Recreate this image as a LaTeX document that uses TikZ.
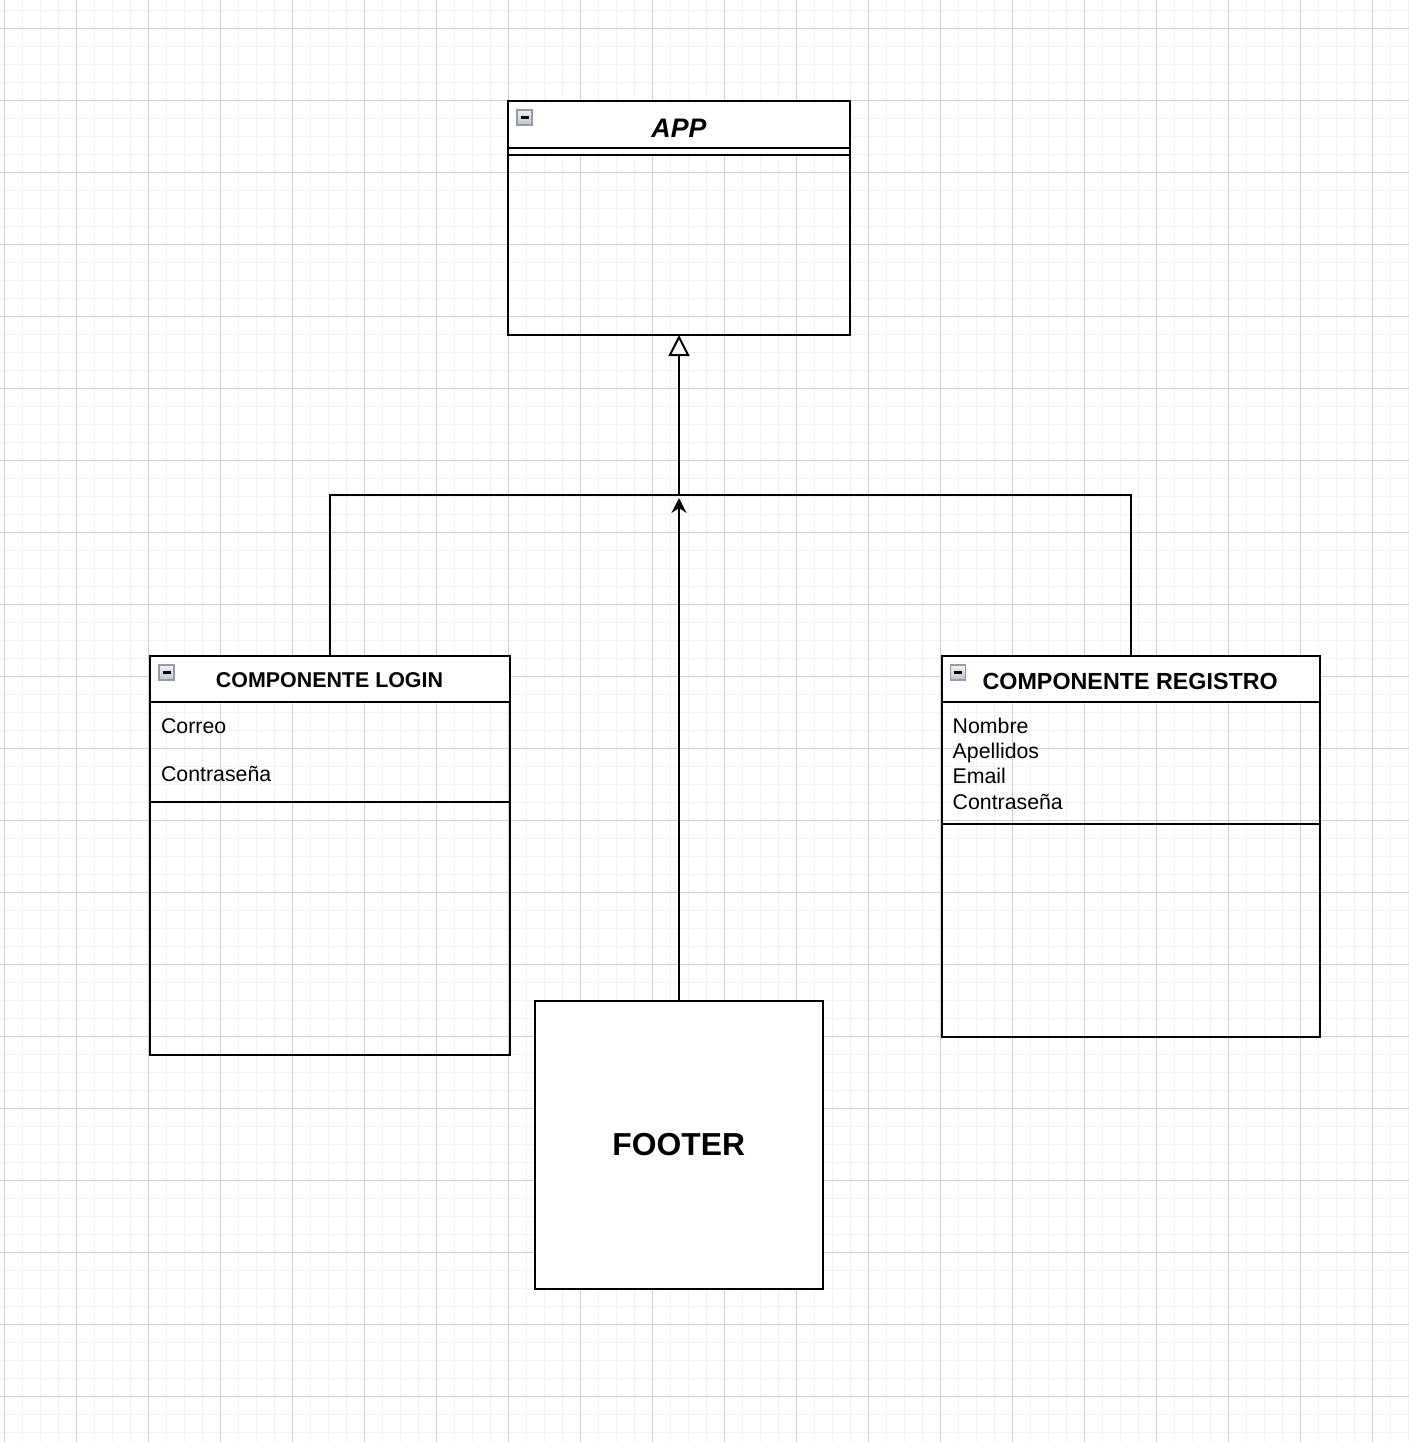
\documentclass[tikz,border=0pt]{standalone}
\usepackage{fontspec}
\setmainfont{Liberation Sans}
\usetikzlibrary{arrows.meta}
\definecolor{minorc}{RGB}{242,242,242}
\definecolor{majorc}{RGB}{208,208,208}
\definecolor{iconb}{RGB}{150,156,166}
\definecolor{icontop}{RGB}{240,241,244}
\definecolor{iconbot}{RGB}{192,196,203}
\begin{document}
\begin{tikzpicture}[x=0.5pt,y=-0.5pt,
  minorgrid/.style={draw=minorc, line width=0.5pt},
  majorgrid/.style={draw=majorc, line width=0.5pt},
  box/.style={draw=black, line width=1pt, outer sep=0pt, inner sep=0pt, anchor=north west},
  sep/.style={draw=black, line width=1pt},
  conn/.style={draw=black, line width=1pt},
  txt/.style={inner sep=0pt, anchor=base},
  attr/.style={inner sep=0pt, anchor=base west, font=\fontsize{10.65pt}{12.5pt}\selectfont},
  iconbox/.style={draw=iconb, line width=0.6pt, top color=icontop, bottom color=iconbot},
]
% background and bounding box
\fill[white] (0,0) rectangle (1409,1442);
\useasboundingbox (0,0) rectangle (1409,1442);
% grid
\foreach \i in {0,...,78} {\draw[minorgrid] ({4+18*\i},0) -- ({4+18*\i},1442);}
\foreach \j in {0,...,79} {\draw[minorgrid] (0,{10+18*\j}) -- (1409,{10+18*\j});}
\foreach \i in {0,...,19} {\draw[majorgrid] ({4+72*\i},0) -- ({4+72*\i},1442);}
\foreach \j in {0,...,19} {\draw[majorgrid] (0,{28+72*\j}) -- (1409,{28+72*\j});}

% header fills
\fill[white] (508,101) rectangle (850,155);
\fill[white] (150,656) rectangle (510,702);
\fill[white] (942,656) rectangle (1320,702);

% boxes
\node[box, minimum width=171pt, minimum height=117pt] (app) at (508,101) {};
\node[box, minimum width=180pt, minimum height=199.5pt] (login) at (150,656) {};
\node[box, minimum width=189pt, minimum height=190.5pt] (reg) at (942,656) {};
\node[box, fill=white, minimum width=144pt, minimum height=144pt] (footer) at (535,1001) {};

% compartment separators
\draw[sep] (508,148) -- (850,148);
\draw[sep] (508,155) -- (850,155);
\draw[sep] (150,702) -- (510,702);
\draw[sep] (150,802) -- (510,802);
\draw[sep] (942,702) -- (1320,702);
\draw[sep] (942,824) -- (1320,824);

% collapse icons
\shade[iconbox] (517,110) rectangle (532,125);
\draw[black, line width=1.1pt] (520.5,117.5) -- (528.5,117.5);
\shade[iconbox] (159,665) rectangle (174,680);
\draw[black, line width=1.1pt] (162.5,672.5) -- (170.5,672.5);
\shade[iconbox] (950.5,665) rectangle (965.5,680);
\draw[black, line width=1.1pt] (954,672.5) -- (962,672.5);

% titles
\node[txt, font=\fontsize{13.4pt}{15pt}\selectfont\bfseries\itshape] (apptitle) at (679,137.7) {APP};
\node[txt, font=\fontsize{10.7pt}{12.5pt}\selectfont\bfseries] (logintitle) at (329.5,687.7) {COMPONENTE LOGIN};
\node[txt, font=\fontsize{11.65pt}{13.5pt}\selectfont\bfseries] (regtitle) at (1130.2,689) {COMPONENTE REGISTRO};
\node[txt, font=\fontsize{15.9pt}{18pt}\selectfont\bfseries] (footertitle) at (678.7,1155.7) {FOOTER};

% attributes
\node[attr] (correo) at (160.7,733) {Correo};
\node[attr] (contra1) at (160.7,781) {Contraseña};
\node[attr] (nombre) at (952.3,733.3) {Nombre};
\node[attr] (apellidos) at (952.3,758.3) {Apellidos};
\node[attr] (email) at (952.3,783.3) {Email};
\node[attr] (contra2) at (952.3,809) {Contraseña};

% connectors
\coordinate (joint) at (679,495);
\draw[conn] (login.north) |- (joint);
\draw[conn] (reg.north) |- (joint);
\draw[conn, -{Triangle[open, length=10.5pt, width=10.5pt, line width=1pt]}] (joint) -- (app.south);
\draw[conn, shorten >=1.5pt, -{Stealth[length=7.5pt, width=7.5pt, inset=2.5pt]}] (footer.north) -- (joint);
\end{tikzpicture}
\end{document}
